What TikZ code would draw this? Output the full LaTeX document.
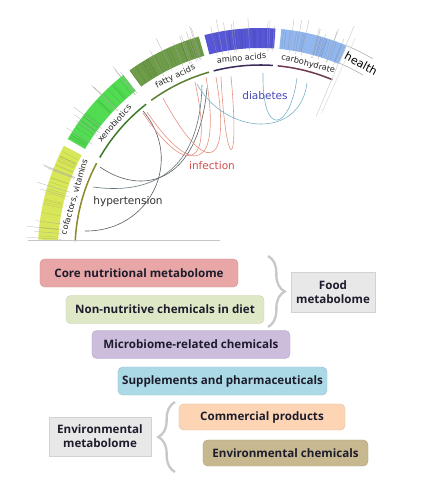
\documentclass[tikz,border=0pt]{standalone}
\usepackage{fontspec}
\setmainfont{DejaVu Sans}
\newfontfamily\boxfont{Open Sans}
\usetikzlibrary{positioning,decorations.pathreplacing}

\definecolor{yellowband}{HTML}{D8E65A}
\definecolor{greenband}{HTML}{52DC52}
\definecolor{fattyband}{HTML}{6E9C48}
\definecolor{aminoband}{HTML}{5656D6}
\definecolor{carboband}{HTML}{92B6EE}
\definecolor{cofline}{HTML}{8A8A2E}
\definecolor{xenoline}{HTML}{3E7C2A}
\definecolor{fattyline}{HTML}{5E7E36}
\definecolor{aminoline}{HTML}{3C2C5E}
\definecolor{carboline}{HTML}{6C3C52}
\definecolor{hyperc}{HTML}{5A5A5A}
\definecolor{infc}{HTML}{E4907E}
\definecolor{diabc}{HTML}{78B0C6}
\definecolor{corebox}{HTML}{E8A6A6}
\definecolor{dietbox}{HTML}{DFE8C6}
\definecolor{microbox}{HTML}{CCBDDD}
\definecolor{suppbox}{HTML}{ABD9E5}
\definecolor{commbox}{HTML}{FDD5B5}
\definecolor{envbox}{HTML}{C7B88F}
\definecolor{groupgray}{HTML}{E8E8E8}
\definecolor{bracegray}{HTML}{C8C8C8}
\definecolor{boxtext}{HTML}{1C1C2C}

\tikzset{
  box/.style={rounded corners=4pt, draw=#1!90!black, fill=#1, text=boxtext,
    font=\boxfont\bfseries\fontsize{9.9}{11}\selectfont, minimum height=0.84cm, inner sep=2pt},
  groupbox/.style={draw=gray!35, fill=groupgray, text=boxtext, align=center,
    font=\boxfont\bfseries\fontsize{9.9}{11.8}\selectfont},
  bracket/.style={decorate, decoration={brace, amplitude=#1}, draw=bracegray, line width=2pt},
  seglbl/.style={font=\fontsize{7}{8}\selectfont, text=black!85, inner sep=0pt},
  chordlbl/.style={font=\fontsize{9}{10}\selectfont, inner sep=1pt},
  chord/.style={line width=0.5pt, #1}
}

\begin{document}
\begin{tikzpicture}[x=0.03cm, y=0.03cm]
  \useasboundingbox (0,0) rectangle (430,490);

  \begin{scope}[shift={(260,240)}]
    \pgfmathsetseed{7}
    \foreach \s/\e/\col/\lc in {152/177.3/yellowband/cofline, 128/150/greenband/xenoline,
        106/126/fattyband/fattyline, 86/104.5/aminoband/aminoline, 67/84.5/carboband/carboline} {
      \fill[\col] (\s:202) arc[start angle=\s, end angle=\e, radius=202]
        -- (\e:222) arc[start angle=\e, end angle=\s, radius=222] -- cycle;
      \foreach \i in {1,...,22} {
        \pgfmathsetmacro\a{\s+(\e-\s)*rnd}
        \draw[\col!55!black, opacity=.35, very thin] (\a:203) -- (\a:221);
      }
      \foreach \i in {1,...,9} {
        \pgfmathsetmacro\a{\s+(\e-\s)*rnd}
        \pgfmathsetmacro\l{224+12*rnd}
        \draw[gray!70, very thin] (\a:199) -- (\a:\l);
      }
      \draw[\lc, line width=1.3pt] (\s:185) arc[start angle=\s, end angle=\e, radius=185];
    }
    \draw[gray!75, thin] (59.5:222) arc[start angle=59.5, end angle=67, radius=222];
    \draw[gray!75, thin] (59.5:203) arc[start angle=59.5, end angle=67, radius=203];
    \draw[gray!40] (67.2:145) -- (67.2:243);
    \draw[gray!30] (65.8:150) -- (65.8:232);

    \node[seglbl, rotate=74] (cofl) at (164:193) {cofactors, vitamins};
    \node[seglbl, rotate=49] (xenol) at (139:193) {xenobiotics};
    \node[seglbl, rotate=26] (fattyl) at (116:193) {fatty acids};
    \node[seglbl, rotate=5.5] (aminol) at (95.5:193) {amino acids};
    \node[seglbl, rotate=-14.5] (carbol) at (75.5:192) {carbohydrate};
    \node[font=\fontsize{9.5}{11}\selectfont, rotate=-28.5, inner sep=0pt] (health) at (61.5:212) {health};
  \end{scope}

  \draw[gray!45] (28,250) -- (220,250);

  \draw[chord=hyperc] (85,259) .. controls (150,258) and (185,330) .. (143,379);
  \draw[chord=hyperc] (100,323) .. controls (140,295) and (198,303) .. (207,402);
  \draw[chord=hyperc!70!diabc] (93,303) .. controls (150,295) and (200,317) .. (202,405);

  \draw[chord=infc] (143,377) .. controls (185,314) and (215,318) .. (195,408);
  \draw[chord=infc] (147,378) .. controls (192,312) and (222,318) .. (206,413);
  \draw[chord=infc] (163,392) .. controls (205,314) and (232,318) .. (216,413);
  \draw[chord=infc] (221,413) .. controls (226,316) and (240,316) .. (231,414);

  \draw[chord=diabc] (197,406) .. controls (225,355) and (300,350) .. (307,407);
  \draw[chord=diabc] (263,417) .. controls (262,350) and (290,360) .. (297,412);

  \node[chordlbl, text={rgb,255:red,70;green,70;blue,184}] (diabetes) at (265,394) {diabetes};
  \node[chordlbl, text={rgb,255:red,212;green,76;blue,76}] (infection) at (212,324) {infection};
  \node[chordlbl, text=black!80] (hypertension) at (128,288) {hypertension};

  \node[box=corebox, minimum width=5.94cm] (core) at (139,217) {Core nutritional metabolome};
  \node[box=dietbox, minimum width=5.94cm] (diet) at (165,180.5) {Non-nutritive chemicals in diet};
  \node[box=microbox, minimum width=5.94cm] (micro) at (191,145.5) {Microbiome-related chemicals};
  \node[box=suppbox, minimum width=6.27cm] (supp) at (222.5,109) {Supplements and pharmaceuticals};
  \node[box=commbox, minimum width=4.98cm, minimum height=0.78cm] (comm) at (262,73) {Commercial products};
  \node[box=envbox, minimum width=4.95cm, minimum height=0.78cm] (envchem) at (285.5,37) {Environmental chemicals};

  \node[groupbox, minimum width=2.52cm, minimum height=1.2cm] (food) at (333,198) {Food\\metabolome};
  \node[groupbox, minimum width=3.06cm, minimum height=1.17cm] (envmet) at (100,53.5) {Environmental\\metabolome};

  \draw[bracket=0.5cm] (268,234) -- (268,163);
  \draw[bracket=0.5cm] (175,18) -- (175,88);
\end{tikzpicture}
\end{document}
